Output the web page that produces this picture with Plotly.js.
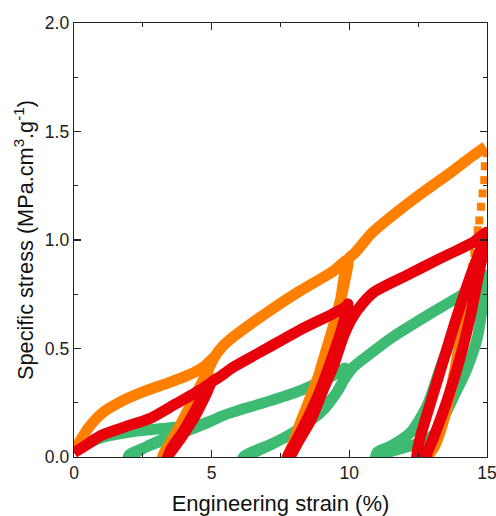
<!DOCTYPE html>
<html>
<head>
<meta charset="utf-8">
<script src="https://cdn.plot.ly/plotly-3.0.1.min.js"></script>
<style>html,body{margin:0;padding:0;background:#fff;}#chart{width:496px;height:516px;}</style>
</head>
<body>
<div id="chart"></div>
<script>
// Orange series: loading/unloading cycles (strain %, specific stress)
const orangeX = [0,0.25,0.5,1,1.7,2.5,3.5,4.2,4.7,5.1,
  4.95,4.7,4.1,3.62,3.26,3.1,3.3,3.7,4.2,4.75,5.1,
  5.4,5.8,7,8.2,9.4,9.95,
  9.85,9.55,9.2,8.83,8.45,8.2,7.95,7.75,7.6,7.85,8.3,8.9,9.3,9.65,9.95,
  10.2,10.4,10.8,11.25,12.46,13.67,14.5,14.95];
const orangeY = [0.03,0.08,0.13,0.20,0.255,0.30,0.345,0.38,0.415,0.46,
  0.43,0.32,0.20,0.09,0.015,-0.05,0.02,0.11,0.23,0.37,0.46,
  0.51,0.555,0.665,0.765,0.855,0.91,
  0.82,0.66,0.51,0.355,0.23,0.15,0.06,0.0,-0.05,0.02,0.18,0.38,0.52,0.70,0.91,
  0.94,0.97,1.03,1.08,1.20,1.31,1.39,1.43];
// Orange final unloading: sparse points (drawn as separate squares)
const orangeDropX = [15.0,14.92,14.9,14.84,14.78,14.72,14.66,14.6,14.54,14.52];
const orangeDropY = [1.40,1.34,1.276,1.215,1.153,1.09,1.045,1.0,0.94,0.89];
const orangeTailX = [14.52,14.35,14.05,13.75,13.45,13.1,12.85,12.8];
const orangeTailY = [0.89,0.75,0.55,0.35,0.18,0.05,0.0,-0.05];

// Red series
const redX = [0,0.5,1,2,2.8,3.7,4.6,5.0,
  4.95,4.47,3.99,3.5,3.3,3.4,3.9,4.4,4.8,5.0,
  5.3,5.8,7,8.2,9.4,9.9,9.95,
  9.7,9.3,8.95,8.45,8.0,7.75,7.7,7.85,8.1,8.6,9.05,9.45,9.8,10.1,10.5,10.9,
  12.1,13.3,14.5,15.0,
  14.75,14.39,14.03,13.55,13.06,12.82,12.75,12.45,12.46,12.58,12.94,13.42,13.9,14.39,14.9];
const redY = [0.02,0.06,0.10,0.145,0.18,0.245,0.31,0.345,
  0.34,0.23,0.123,0.03,-0.05,0.0,0.09,0.19,0.29,0.345,
  0.37,0.415,0.50,0.585,0.66,0.695,0.705,
  0.58,0.43,0.31,0.17,0.06,0.0,-0.05,0.0,0.06,0.17,0.31,0.43,0.56,0.64,0.71,0.76,
  0.838,0.915,0.99,1.035,
  0.876,0.645,0.46,0.26,0.09,0.015,-0.05,-0.05,0.015,0.092,0.246,0.446,0.645,0.83,1.0];

// Green series
const greenX = [0,0.24,1.08,2.29,3.5,4.71,5.05,
  4.7,4.2,3.6,3.0,2.5,2.0,1.9,2.05,2.6,3.2,3.8,4.4,5.05,
  5.3,5.8,7.0,8.2,8.83,9.4,9.85,
  9.8,9.5,9.0,8.5,8.0,7.5,7.0,6.5,6.15,6.05,6.2,6.7,7.2,7.8,8.4,9.0,9.5,9.8,10.15,10.75,11.6,12.8,14.0,14.4,15.0,
  14.9,14.65,14.25,13.8,13.5,13.2,12.8,12.2,11.5,11.0,10.9,11.0,11.5,12.2,12.8,13.4,14.05,14.5,15.0];
const greenY = [0.02,0.046,0.092,0.12,0.135,0.154,0.17,
  0.15,0.125,0.095,0.065,0.04,0.01,-0.05,0.0,0.045,0.08,0.11,0.14,0.17,
  0.185,0.208,0.254,0.305,0.34,0.375,0.41,
  0.36,0.29,0.22,0.16,0.115,0.08,0.05,0.025,0.0,-0.05,0.0,0.03,0.06,0.10,0.15,0.21,0.29,0.355,0.415,0.475,0.555,0.65,0.74,0.773,0.83,
  0.75,0.55,0.40,0.28,0.20,0.12,0.08,0.05,0.025,0.0,-0.05,0.02,0.05,0.11,0.23,0.445,0.645,0.79,0.86];

const xTickVals = [0,5,10,15];
const yTickVals = [0.0,0.5,1.0,1.5,2.0];

const ORANGE = '#FF8000', RED = '#E8000B', GREEN = '#3DBB72';
const LW = 11;
const lineOf = c => ({color: c, width: LW, shape: 'spline', smoothing: 0.7});

const traces = [
  {x: greenX, y: greenY, mode: 'lines', line: lineOf(GREEN)},
  {x: orangeX, y: orangeY, mode: 'lines', line: lineOf(ORANGE)},
  {x: orangeTailX, y: orangeTailY, mode: 'lines', line: lineOf(ORANGE)},
  {x: orangeDropX, y: orangeDropY, mode: 'markers', marker: {color: ORANGE, size: 8, symbol: 'square'}},
  {x: redX, y: redY, mode: 'lines', line: lineOf(RED)}
];

const FONT = 'Liberation Sans, Arial, sans-serif';
const axisFont = {family: FONT, size: 17.5, color: '#222'};
const layout = {
  width: 496, height: 516,
  margin: {l: 74, r: 9, t: 23, b: 59},
  paper_bgcolor: '#fff', plot_bgcolor: '#fff',
  showlegend: false,
  xaxis: {
    range: [0, 15], tickvals: xTickVals, ticktext: xTickVals.map(String),
    ticks: 'inside', ticklen: 7, tickwidth: 1.2, tickcolor: '#222',
    minor: {tickvals: [2.5, 7.5, 12.5], ticks: 'inside', ticklen: 4, tickwidth: 1.2, tickcolor: '#222'},
    showline: true, linecolor: '#222', linewidth: 1.3, mirror: 'ticks',
    showgrid: false, zeroline: false, tickfont: axisFont, ticklabeloverflow: 'allow',
    title: {text: 'Engineering strain (%)', font: {family: FONT, size: 22, color: '#111'}, standoff: 17}
  },
  yaxis: {
    range: [0, 2], tickvals: yTickVals, ticktext: yTickVals.map(v => v.toFixed(1)),
    ticks: 'inside', ticklen: 7, tickwidth: 1.2, tickcolor: '#222',
    minor: {tickvals: [0.25, 0.75, 1.25, 1.75], ticks: 'inside', ticklen: 4, tickwidth: 1.2, tickcolor: '#222'},
    showline: true, linecolor: '#222', linewidth: 1.3, mirror: 'ticks',
    showgrid: false, zeroline: false, tickfont: axisFont, ticklabeloverflow: 'allow',
    title: {text: 'Specific stress (MPa.cm<sup>3</sup>.g<sup>-1</sup>)', font: {family: FONT, size: 21.7, color: '#111'}, standoff: 5}
  }
};

Plotly.newPlot('chart', traces, layout, {staticPlot: true, displayModeBar: false});
</script>
</body>
</html>
